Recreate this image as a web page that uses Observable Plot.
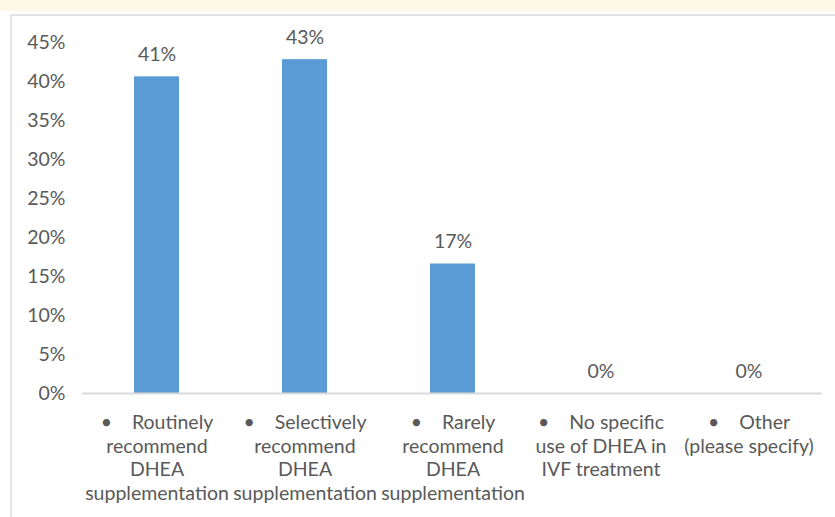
<!DOCTYPE html>
<html>
<head>
<meta charset="utf-8">
<script src="https://cdn.jsdelivr.net/npm/d3@7"></script>
<script src="https://cdn.jsdelivr.net/npm/@observablehq/plot@0.6"></script>
<style>
  html, body { margin: 0; padding: 0; background: #ffffff; }
  #wrap { position: relative; width: 835px; height: 517px; overflow: hidden; }
  #band { position: absolute; left: 0; top: 0; width: 835px; height: 11px; background: #fff9e8; }
  #frame { position: absolute; left: 10px; top: 14px; width: 840px; height: 520px;
           border-left: 2px solid #e4e4e4; border-top: 2px solid #e4e4e4; }
  #chart { position: absolute; left: 0; top: 0; }
</style>
</head>
<body>
<div id="wrap">
  <div id="band"></div>
  <div id="frame"></div>
  <div id="chart"></div>
</div>
<script>
const categories = ["routinely", "selectively", "rarely", "none", "other"];
const values = [40.6, 42.8, 16.6, 0, 0];
const categoryLabels = [
  "•\u00a0\u00a0\u00a0\u00a0Routinely\nrecommend\nDHEA\nsupplementation",
  "•\u00a0\u00a0\u00a0\u00a0Selectively\nrecommend\nDHEA\nsupplementation",
  "•\u00a0\u00a0\u00a0\u00a0Rarely\nrecommend\nDHEA\nsupplementation",
  "•\u00a0\u00a0\u00a0\u00a0No specific\nuse of DHEA in\nIVF treatment",
  "•\u00a0\u00a0\u00a0\u00a0Other\n(please specify)"
];
const yTicks = [0, 5, 10, 15, 20, 25, 30, 35, 40, 45];

const data = categories.map((c, i) => ({category: c, value: values[i], label: categoryLabels[i]}));
const labelOf = new Map(data.map(d => [d.category, d.label]));

const chart = Plot.plot({
  width: 835,
  height: 517,
  marginLeft: 82,
  marginRight: 13,
  marginTop: 42,
  marginBottom: 124,
  style: {fontFamily: "Lato, 'Open Sans', sans-serif", fontSize: "19.5px", color: "#595959", background: "transparent"},
  x: {domain: categories, paddingInner: 0.696, paddingOuter: 0.348, axis: null},
  y: {domain: [0, 45], axis: null},
  marks: [
    Plot.axisY({ticks: yTicks, tickSize: 0, tickPadding: 17, tickFormat: d => d + "%", fontSize: 19.5, label: null}),
    Plot.axisX({tickSize: 0, tickPadding: 18, tickFormat: d => labelOf.get(d), fontSize: 19.5, lineHeight: 1.23, lineAnchor: "top", label: null}),
    Plot.barY(data, {x: "category", y: "value", fill: "#5b9bd5"}),
    Plot.ruleY([0], {stroke: "#d9d9d9", strokeWidth: 2}),
    Plot.text(data, {x: "category", y: "value", text: d => Math.round(d.value) + "%", dy: -22, fontSize: 19.5, fill: "#595959"})
  ]
});
document.getElementById("chart").appendChild(chart);
</script>
</body>
</html>
